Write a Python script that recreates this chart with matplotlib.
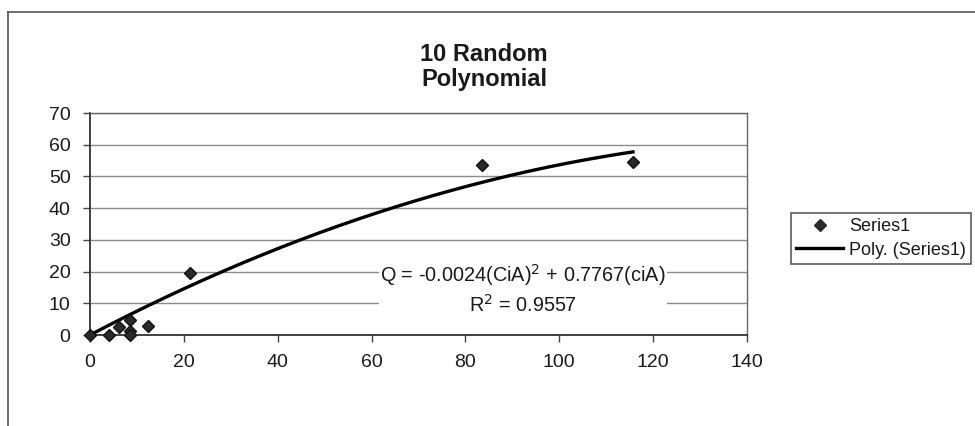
import numpy as np
import matplotlib
matplotlib.use("Agg")
import matplotlib.pyplot as plt
from matplotlib.lines import Line2D

plt.rcParams['font.family'] = ['Liberation Sans', 'DejaVu Sans']

# data
cia = [0.0, 4.1, 6.2, 8.6, 8.6, 8.6, 12.4, 21.3, 83.5, 115.7]
q = [0.0, 0.0, 2.5, 4.7, 1.4, 0.0, 2.8, 19.6, 53.6, 54.4]
# polynomial trendline (order 2, zero intercept) as printed on the chart
coef_a = -0.0024
coef_b = 0.7767
r2 = 0.9557

xticks = [0, 20, 40, 60, 80, 100, 120, 140]
yticks = [0, 10, 20, 30, 40, 50, 60, 70]

txt = '#1a1a1a'
grid = '#8a8a8a'

fig = plt.figure(figsize=(9.75, 4.26), dpi=100)
ax = fig.add_axes([90/975, 1-335/426, (747-90)/975, (335-113)/426])

xs = np.linspace(0, max(cia), 200)
ax.plot(xs, coef_a*xs**2 + coef_b*xs, color='black', lw=2.4, zorder=3, clip_on=False)
ax.plot(cia, q, ls='none', marker='D', ms=6.5, color='#2a2a2a', mec='#111111',
        zorder=4, clip_on=False)

ax.set_xlim(0, 140)
ax.set_ylim(0, 70)
ax.set_xticks(xticks)
ax.set_yticks(yticks)
ax.yaxis.grid(True, color=grid, lw=1.0)
ax.set_axisbelow(True)
ax.tick_params(axis='both', length=5, width=1, color='#444444', labelsize=14,
               labelcolor=txt, pad=9)
for s in ['left', 'bottom']:
    ax.spines[s].set_color('#333333')
    ax.spines[s].set_linewidth(1.3)
for s in ['top', 'right']:
    ax.spines[s].set_color('#666666')
    ax.spines[s].set_linewidth(1.0)

eq = 'Q = %.4f(CiA)$^2$ + %.4f(ciA)\nR$^2$ = %.4f' % (coef_a, coef_b, r2)
ax.text(523/975, 1-289/426, eq, transform=fig.transFigure, ha='center', va='center',
        fontsize=14.3, color=txt, linespacing=1.3, zorder=5,
        bbox=dict(facecolor='white', edgecolor='none', pad=1))

fig.text(484/975, 1-43/426, '10 Random\nPolynomial', ha='center', va='top',
         fontsize=17, fontweight='bold', color=txt, linespacing=1.1)

# chart area border
fig.add_artist(Line2D([8/975, 1], [1-12/426]*2, color='#555555', lw=1.2))
fig.add_artist(Line2D([8/975]*2, [1-12/426, 0], color='#555555', lw=1.2))

handles = [Line2D([], [], ls='none', marker='D', ms=6.5, color='#2a2a2a'),
           Line2D([], [], color='black', lw=2.4)]
leg = fig.legend(handles, ['Series1', 'Poly. (Series1)'], loc='upper left',
                 bbox_to_anchor=(791/975, 1-213/426), fontsize=13, frameon=True,
                 fancybox=False, edgecolor='#333333', handlelength=2.6,
                 handletextpad=0.3, borderpad=0.3, labelspacing=0.35, borderaxespad=0)
leg.get_frame().set_linewidth(1.2)
for t in leg.get_texts():
    t.set_color(txt)

fig.savefig('out.png', dpi=100, facecolor='white')
